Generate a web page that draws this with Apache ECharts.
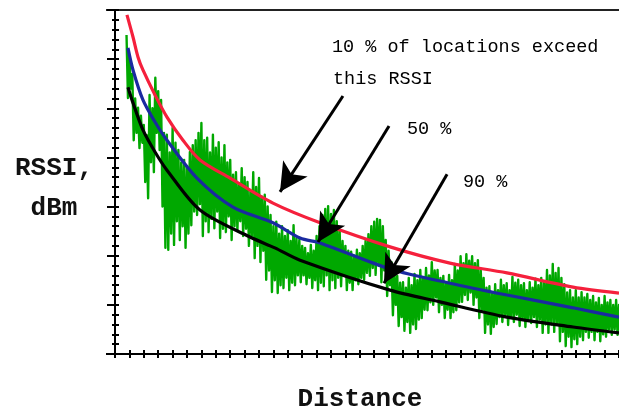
<!DOCTYPE html>
<html><head><meta charset="utf-8">
<script src="https://cdn.jsdelivr.net/npm/echarts@6/dist/echarts.min.js"></script>
<style>html,body{margin:0;padding:0;background:#fff}#c{width:619px;height:410px}</style>
</head><body><div id="c"></div>
<script>
// Distance axis (arbitrary units, one tick per unit) and RSSI in dBm
const xTicks = {min: 0, max: 35, interval: 1};
const yTicks = {min: -105, max: -35, interval: 10};

// 10 % curve (red)
const p10Dist = [0.83,1.25,1.60,1.94,2.78,3.61,4.72,5.90,7.99,10.97,14.24,19.10,23.26,27.22,31.81,35.0];
const p10Rssi = [-36.0,-40.5,-44.6,-47.2,-52.3,-56.8,-61.5,-65.5,-69.2,-74.3,-78.3,-83.2,-86.5,-88.5,-91.4,-92.6];
// 50 % curve (blue)
const p50Dist = [0.9,1.25,1.94,2.78,3.61,5.69,8.19,10.97,12.85,14.24,19.10,23.26,27.22,31.81,35.0];
const p50Rssi = [-42.7,-47.2,-53.3,-57.8,-61.5,-69.2,-75.1,-78.3,-81.4,-82.4,-87.7,-90.6,-93.0,-95.6,-97.5];
// 90 % curve (black)
const p90Dist = [0.9,1.25,1.94,2.78,3.61,5.90,9.38,11.1,12.85,19.10,22.57,27.22,31.81,35.0];
const p90Rssi = [-50.7,-53.9,-59.4,-63.9,-67.6,-75.7,-81.2,-83.4,-85.9,-92.0,-94.4,-97.5,-99.5,-100.7];

// measured signal (green), sampled from distance 0.8 in steps of 0.1
const greenStart = 0.8, greenStep = 0.1;
const greenRssi = [
-40.1,-52.9,-44.5,-51.0, -48.0,-61.5,-53.0,-60.0, -54.9,-63.1,-56.5,-62.0, -58.4,-70.0,-60.5,-73.3,
-52.3,-66.0,-55.0,-68.0, -48.8,-60.0,-51.5,-63.5, -53.3,-75.0,-60.0,-83.4, -60.4,-83.8,-64.0,-80.5,
-59.0,-82.8,-62.0,-78.0, -63.5,-81.8,-66.0,-79.0, -65.5,-83.4,-67.0,-80.5, -63.9,-78.8,-62.5,-76.0,
-61.5,-76.7,-60.0,-74.5, -58.0,-81.0,-61.5,-78.0, -61.0,-80.2,-64.0,-77.5, -60.4,-79.4,-63.0,-76.0,
-61.9,-81.4,-65.0,-79.5, -62.5,-80.2,-66.0,-77.0, -65.5,-81.8,-68.5,-79.0, -68.0,-79.8,-70.5,-78.0,
-67.2,-81.0,-69.0,-79.5, -70.0,-83.0,-72.0,-81.0, -68.0,-85.5,-71.0,-83.0, -69.2,-86.3,-73.0,-84.0,
-72.6,-89.9,-75.0,-88.0, -76.7,-92.4,-79.0,-90.0, -78.1,-92.6,-80.5,-91.0, -79.0,-91.6,-81.0,-89.5,
-79.8,-92.0,-82.0,-90.5, -78.8,-91.0,-81.5,-89.0, -81.8,-90.4,-83.0,-89.0, -83.4,-90.8,-84.5,-89.5,
-82.8,-91.6,-84.0,-90.0, -81.0,-92.0,-79.0,-90.5, -76.7,-91.2,-75.5,-89.0, -74.9,-92.0,-76.5,-90.0,
-75.7,-91.6,-78.0,-89.5, -79.8,-91.2,-82.0,-89.0, -83.0,-92.0,-84.0,-90.5, -84.2,-92.0,-85.0,-90.0,
-83.8,-90.8,-84.5,-89.5, -83.0,-89.9,-82.0,-88.5, -80.6,-89.1,-79.0,-87.5, -78.1,-88.9,-77.5,-87.0,
-77.7,-90.4,-79.0,-88.0, -81.8,-93.2,-84.0,-91.0, -86.3,-97.1,-88.0,-95.0, -89.1,-99.3,-90.5,-97.5,
-90.4,-100.3,-91.5,-98.5, -89.5,-100.7,-91.0,-99.0, -88.7,-99.9,-90.0,-98.0, -87.9,-97.7,-89.5,-96.0,
-87.5,-96.1,-89.0,-94.5, -86.3,-95.0,-88.0,-93.5, -87.9,-96.5,-89.5,-95.0, -89.1,-97.7,-90.5,-96.0,
-88.9,-97.7,-90.0,-96.5, -86.7,-96.1,-88.0,-94.5, -85.1,-94.4,-86.5,-93.0, -84.7,-94.0,-86.0,-92.5,
-85.1,-95.0,-86.5,-93.5, -85.9,-97.7,-88.0,-96.0, -89.5,-100.7,-91.5,-99.0, -91.2,-100.9,-92.5,-99.5,
-90.8,-98.9,-92.0,-97.5, -89.9,-98.5,-91.0,-97.0, -90.6,-99.1,-92.0,-97.5, -89.3,-98.5,-90.5,-97.0,
-89.9,-99.3,-91.0,-98.0, -90.6,-99.5,-92.0,-98.0, -90.4,-98.7,-91.5,-97.5, -89.7,-99.5,-91.0,-98.0,
-89.5,-100.7,-90.5,-99.0, -87.9,-100.7,-89.0,-99.0, -86.7,-100.5,-88.5,-99.0, -87.5,-102.4,-89.5,-100.5,
-90.8,-103.4,-92.5,-101.5, -92.0,-103.6,-93.5,-102.0, -92.0,-103.0,-93.5,-101.5, -92.4,-102.2,-93.5,-100.5,
-92.8,-101.7,-94.0,-100.5, -93.2,-102.2,-94.5,-100.5, -93.6,-102.4,-95.0,-101.0, -93.2,-101.5,-94.5,-100.0,
-94.0,-101.1,-95.0,-100.0, -94.0,-101.1,-95.0,-100.0
];

// annotation arrows: [startDist, startRssi, tipDist, tipRssi]
const arrows = [
  [15.83, -52.5, 11.46, -72.0],
  [19.03, -58.6, 14.10, -82.2],
  [23.06, -68.4, 18.68, -90.6]
];
const annotations = ['10 % of locations exceed', 'this RSSI', '50 %', '90 %'];
const yTitle = ['RSSI,', 'dBm'];
const xTitle = 'Distance';

const zip = (xs, ys) => xs.map((x, i) => [x, ys[i]]);
const greenData = greenRssi.map((v, i) => [+(greenStart + i * greenStep).toFixed(2), v]);

const mono = "'Courier New', 'Liberation Mono', monospace";
const chart = echarts.init(document.getElementById('c'), null, {renderer: 'canvas'});

const axisCommon = {type: 'value', axisLabel: {show: false}, splitLine: {show: false}};
chart.setOption({
  animation: false,
  backgroundColor: '#fff',
  grid: [
    {left: 115, right: 0, top: 10, bottom: 56},
    {left: 115, right: 0, top: 10, bottom: 56}
  ],
  xAxis: [
    Object.assign({}, axisCommon, xTicks, {gridIndex: 0, position: 'bottom',
      axisLine: {show: true, lineStyle: {color: '#000', width: 2}},
      axisTick: {show: true, inside: false, length: 4, lineStyle: {color: '#000', width: 2}}}),
    Object.assign({}, axisCommon, xTicks, {gridIndex: 0, position: 'top',
      axisLine: {show: true, lineStyle: {color: '#222', width: 2}},
      axisTick: {show: false}}),
    Object.assign({}, axisCommon, xTicks, {gridIndex: 1, position: 'bottom',
      axisLine: {show: false},
      axisTick: {show: true, inside: true, length: 4, lineStyle: {color: '#000', width: 2}}})
  ],
  yAxis: [
    Object.assign({}, axisCommon, yTicks, {gridIndex: 0, position: 'left',
      axisLine: {show: true, lineStyle: {color: '#000', width: 2}},
      axisTick: {show: true, inside: false, length: 8, lineStyle: {color: '#000', width: 2}},
      minorTick: {show: true, splitNumber: 5, length: 3, lineStyle: {color: '#000', width: 2}}}),
    Object.assign({}, axisCommon, yTicks, {gridIndex: 1, position: 'left',
      axisLine: {show: false},
      axisTick: {show: true, inside: true, length: 4, lineStyle: {color: '#000', width: 2}},
      minorTick: {show: true, splitNumber: 5, length: 4, lineStyle: {color: '#000', width: 2}}})
  ],
  series: [
    {type: 'line', name: 'signal', xAxisIndex: 0, yAxisIndex: 0, data: greenData,
      showSymbol: false, symbol: 'none', z: 1,
      lineStyle: {color: '#00a800', width: 2.4, join: 'round'}},
    {type: 'line', name: '90 %', xAxisIndex: 0, yAxisIndex: 0, data: zip(p90Dist, p90Rssi),
      smooth: 0.3, symbol: 'none', z: 3,
      lineStyle: {color: '#000000', width: 3.2}},
    {type: 'line', name: '50 %', xAxisIndex: 0, yAxisIndex: 0, data: zip(p50Dist, p50Rssi),
      smooth: 0.3, symbol: 'none', z: 3,
      lineStyle: {color: '#1a2aa0', width: 3.2}},
    {type: 'line', name: '10 %', xAxisIndex: 0, yAxisIndex: 0, data: zip(p10Dist, p10Rssi),
      smooth: 0.3, symbol: 'none', z: 3,
      lineStyle: {color: '#f5203c', width: 3.2},
      markLine: {
        silent: true, animation: false, z: 5,
        label: {show: false},
        lineStyle: {color: '#000', width: 3, type: 'solid'},
        symbol: ['none', 'arrow'], symbolSize: [22, 28],
        data: arrows.map(a => [{coord: [a[0], a[1]]}, {coord: [a[2], a[3]]}])
      }}
  ],
  graphic: [
    {type: 'line', shape: {x1: 106, y1: 354, x2: 115, y2: 354}, style: {stroke: '#000', lineWidth: 2}},
    {type: 'line', shape: {x1: 106, y1: 10, x2: 115, y2: 10}, style: {stroke: '#222', lineWidth: 2}},
    {type: 'text', left: 332, top: 38, style: {text: annotations[0], font: "18.5px " + mono, fill: '#000'}},
    {type: 'text', left: 333, top: 70, style: {text: annotations[1], font: "18.5px " + mono, fill: '#000'}},
    {type: 'text', left: 407, top: 120, style: {text: annotations[2], font: "18.5px " + mono, fill: '#000'}},
    {type: 'text', left: 463, top: 173, style: {text: annotations[3], font: "18.5px " + mono, fill: '#000'}},
    {type: 'text', x: 54, y: 168, style: {text: yTitle[0], font: "bold 26px " + mono, fill: '#111', align: 'center', verticalAlign: 'middle'}},
    {type: 'text', x: 54, y: 208, style: {text: yTitle[1], font: "bold 26px " + mono, fill: '#111', align: 'center', verticalAlign: 'middle'}},
    {type: 'text', x: 360, y: 399, style: {text: xTitle, font: "bold 26px " + mono, fill: '#111', align: 'center', verticalAlign: 'middle'}}
  ]
});
</script>
</body></html>
